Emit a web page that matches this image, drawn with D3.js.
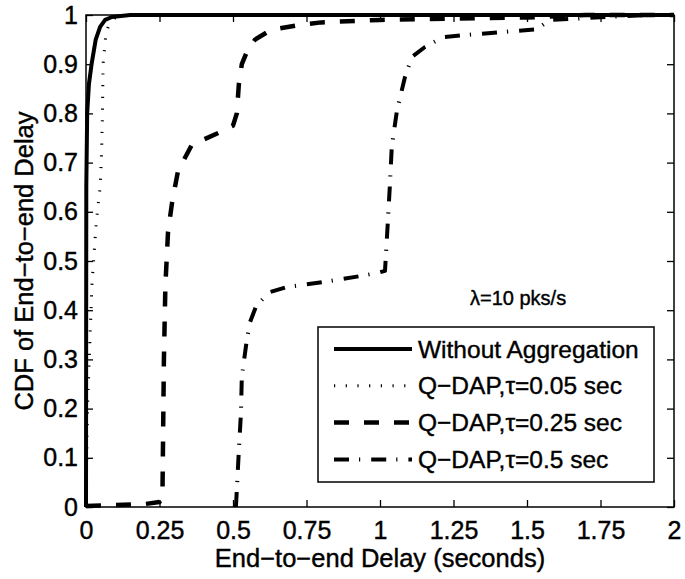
<!DOCTYPE html>
<html>
<head>
<meta charset="utf-8">
<script src="https://cdn.jsdelivr.net/npm/d3@7"></script>
<style>
  body { margin: 0; background: #fff; }
  text { font-family: "Liberation Sans", Arial, Helvetica, sans-serif; fill: #000; stroke: #000; stroke-width: 0.4px; }
</style>
</head>
<body>
<script>
var xTicks = [0, 0.25, 0.5, 0.75, 1, 1.25, 1.5, 1.75, 2];
var xTickLabels = ["0", "0.25", "0.5", "0.75", "1", "1.25", "1.5", "1.75", "2"];
var yTicks = [0, 0.1, 0.2, 0.3, 0.4, 0.5, 0.6, 0.7, 0.8, 0.9, 1];
var yTickLabels = ["0", "0.1", "0.2", "0.3", "0.4", "0.5", "0.6", "0.7", "0.8", "0.9", "1"];

var seriesNames = ["Without Aggregation", "Q\u2212DAP,\u03c4=0.05 sec", "Q\u2212DAP,\u03c4=0.25 sec", "Q\u2212DAP,\u03c4=0.5 sec"];

var delayNoAgg = [0, 0.001, 0.004, 0.01, 0.019, 0.033, 0.048, 0.065, 0.088, 0.15, 2];
var cdfNoAgg   = [0, 0.65, 0.8, 0.86, 0.9, 0.95, 0.976, 0.99, 0.996, 1, 1];

var delayTau005 = [0, 0.005, 0.02, 0.035, 0.048, 0.053, 0.056, 0.058, 0.068, 0.078, 0.1, 0.15, 2];
var cdfTau005   = [0, 0.2, 0.45, 0.58, 0.65, 0.72, 0.8, 0.9, 0.963, 0.98, 0.995, 1, 1];

var delayTau025 = [0, 0.2, 0.25, 0.26, 0.265, 0.27, 0.279, 0.293, 0.313, 0.36, 0.456, 0.5, 0.513, 0.52, 0.53, 0.547, 0.575, 0.63, 0.73, 0.8, 1.0, 1.5, 1.7, 2];
var cdfTau025   = [0.002, 0.006, 0.01, 0.02, 0.3, 0.45, 0.559, 0.62, 0.683, 0.736, 0.762, 0.775, 0.8, 0.86, 0.9, 0.925, 0.95, 0.97, 0.98, 0.985, 0.99, 0.995, 1, 1];

var delayTau05 = [0.51, 0.513, 0.52, 0.527, 0.53, 0.547, 0.558, 0.58, 0.626, 0.683, 0.806, 0.94, 0.993, 1.017, 1.027, 1.034, 1.04, 1.058, 1.085, 1.109, 1.153, 1.214, 1.283, 1.408, 1.534, 1.554, 1.578, 1.646, 1.77, 1.91, 2];
var cdfTau05   = [0, 0.035, 0.116, 0.19, 0.264, 0.34, 0.376, 0.41, 0.437, 0.447, 0.457, 0.47, 0.476, 0.48, 0.583, 0.658, 0.732, 0.807, 0.874, 0.915, 0.935, 0.955, 0.959, 0.965, 0.971, 0.98, 0.99, 0.992, 0.996, 1, 1];

// plot box
var margin = {top: 15, right: 11, bottom: 72, left: 86},
    width = 685 - margin.left - margin.right,
    height = 579 - margin.top - margin.bottom;

var x = d3.scaleLinear().domain([0, 2]).range([0, width]);
var y = d3.scaleLinear().domain([0, 1]).range([height, 0]);

var svg = d3.select("body").append("svg")
    .attr("width", 685)
    .attr("height", 579)
  .append("g")
    .attr("transform", "translate(" + margin.left + "," + margin.top + ")");

var line = d3.line()
    .x(function(d) { return x(d[0]); })
    .y(function(d) { return y(d[1]); });

function zip(a, b) { return a.map(function(v, i) { return [v, b[i]]; }); }

// line styles like matlab
var styles = [
  {w: 4, dash: null},
  {w: 3, dash: "1.2,10.5"},
  {w: 4.5, dash: "15,15"},
  {w: 4, dash: "15,10,1.2,11"}
];
var series = [
  zip(delayNoAgg, cdfNoAgg),
  zip(delayTau005, cdfTau005),
  zip(delayTau025, cdfTau025),
  zip(delayTau05, cdfTau05)
];

// axes (ticks pointing inward)
function styleAxis(g) {
  g.select(".domain").remove();
  g.selectAll("line").attr("stroke", "#000").attr("stroke-width", 1.3);
  g.selectAll("text").style("font-size", "25px").attr("fill", "#000");
}

svg.append("g")
    .attr("transform", "translate(0," + height + ")")
    .call(d3.axisBottom(x).tickValues(xTicks)
      .tickFormat(function(d, i) { return xTickLabels[i]; })
      .tickSizeInner(-7).tickSizeOuter(0).tickPadding(14))
    .call(styleAxis);

svg.append("g")
    .call(d3.axisTop(x).tickValues(xTicks).tickFormat("")
      .tickSizeInner(-7).tickSizeOuter(0))
    .call(styleAxis);

svg.append("g")
    .call(d3.axisLeft(y).tickValues(yTicks)
      .tickFormat(function(d, i) { return yTickLabels[i]; })
      .tickSizeInner(-7).tickSizeOuter(0).tickPadding(8))
    .call(styleAxis);

svg.append("g")
    .attr("transform", "translate(" + width + ",0)")
    .call(d3.axisRight(y).tickValues(yTicks).tickFormat("")
      .tickSizeInner(-7).tickSizeOuter(0))
    .call(styleAxis);

// curves
series.forEach(function(s, i) {
  svg.append("path")
      .datum(s)
      .attr("fill", "none")
      .attr("stroke", "#000")
      .attr("stroke-width", styles[i].w)
      .attr("stroke-dasharray", styles[i].dash)
      .attr("stroke-linejoin", "round")
      .attr("d", line);
});

svg.append("rect")
    .attr("width", width)
    .attr("height", height)
    .attr("fill", "none")
    .attr("stroke", "#000")
    .attr("stroke-width", 1.5);

// axis titles
svg.append("text")
    .attr("x", width / 2)
    .attr("y", height + 60)
    .attr("text-anchor", "middle")
    .style("font-size", "25.5px")
    .text("End\u2212to\u2212end Delay (seconds)");

svg.append("text")
    .attr("transform", "translate(" + (-53) + "," + (height / 2) + ") rotate(-90)")
    .attr("text-anchor", "middle")
    .style("font-size", "25.5px")
    .text("CDF of End\u2212to\u2212end Delay");

// annotation
svg.append("text")
    .attr("x", 384)
    .attr("y", 290)
    .style("font-size", "20px")
    .text("\u03bb=10 pks/s");

// legend
var leg = svg.append("g").attr("transform", "translate(232,312)");
leg.append("rect")
    .attr("width", 336)
    .attr("height", 155)
    .attr("fill", "#fff")
    .attr("stroke", "#000")
    .attr("stroke-width", 1.5);

seriesNames.forEach(function(name, i) {
  var yy = 22 + i * 36.8;
  leg.append("line")
      .attr("x1", 16).attr("x2", 94)
      .attr("y1", yy).attr("y2", yy)
      .attr("stroke", "#000")
      .attr("stroke-width", styles[i].w)
      .attr("stroke-dasharray", styles[i].dash);
  leg.append("text")
      .attr("x", 100)
      .attr("y", yy)
      .attr("dy", "0.35em")
      .style("font-size", "24.5px")
      .text(name);
});
</script>
</body>
</html>
